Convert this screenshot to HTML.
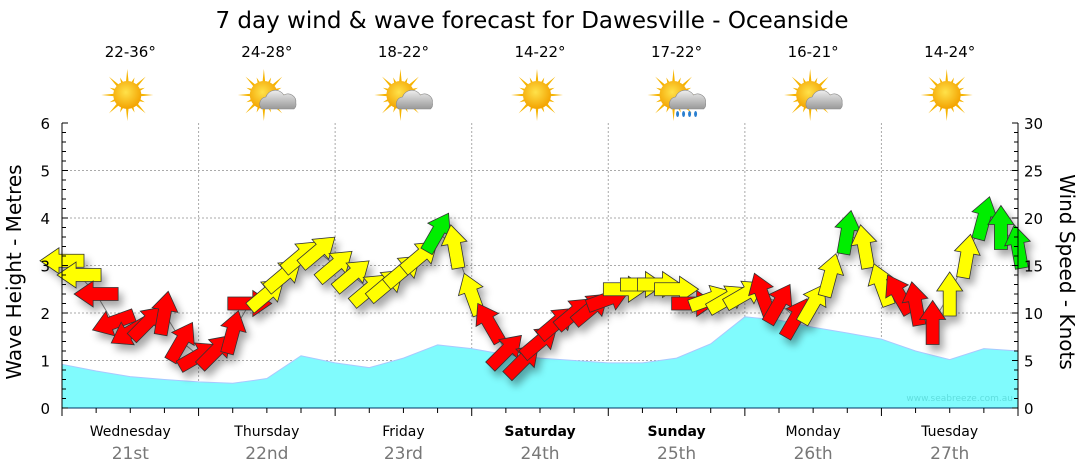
<!DOCTYPE html>
<html><head><meta charset="utf-8"><style>
body{margin:0;background:#fff;font-family:"DejaVu Sans","Liberation Sans",sans-serif;}
svg{display:block;font-family:"DejaVu Sans","Liberation Sans",sans-serif;}
</style></head><body>
<svg id="c" width="1080" height="475" xmlns="http://www.w3.org/2000/svg">
<defs>
<filter id="sh" x="-50%" y="-50%" width="200%" height="200%"><feGaussianBlur in="SourceAlpha" stdDeviation="4"/><feOffset dx="4" dy="6"/><feComponentTransfer><feFuncA type="linear" slope="0.35"/></feComponentTransfer><feMerge><feMergeNode/><feMergeNode in="SourceGraphic"/></feMerge></filter>
<radialGradient id="sunG" cx="0.45" cy="0.4" r="0.6"><stop offset="0" stop-color="#ffe24a"/><stop offset="1" stop-color="#f3a200"/></radialGradient>
<linearGradient id="cloudG" x1="0" y1="0" x2="0" y2="1"><stop offset="0" stop-color="#eee"/><stop offset="1" stop-color="#999"/></linearGradient>
</defs>
<text x="532" y="28" text-anchor="middle" font-size="23" fill="#000">7 day wind &amp; wave forecast for Dawesville - Oceanside</text>
<g id="grid"></g>
<g id="waves"></g>
<g id="windline"></g>
<g id="arrows" filter="url(#sh)"></g>
<g id="axes"></g>
<g id="topg"></g>
<text x="1013" y="401" text-anchor="end" font-size="9" fill="#5fdede">www.seabreeze.com.au</text>
<text transform="translate(21,272) rotate(-90)" text-anchor="middle" font-size="20" fill="#000">Wave Height - Metres</text>
<text transform="translate(1060,272) rotate(90)" text-anchor="middle" font-size="20" fill="#000">Wind Speed - Knots</text>
</svg>
<script>
const days=["Wednesday","Thursday","Friday","Saturday","Sunday","Monday","Tuesday"];
const dates=["21st","22nd","23rd","24th","25th","26th","27th"];
const temps=["22-36°","24-28°","18-22°","14-22°","17-22°","16-21°","14-24°"];
const weather=["sun","cloud","cloud","sun","rain","cloud","sun"];
const leftTicks=[0,1,2,3,4,5,6];
const rightTicks=[0,5,10,15,20,25,30];
// wave height (m) every 6 hours
const waveHeights=[0.92,0.78,0.66,0.60,0.55,0.52,0.62,1.10,0.95,0.85,1.05,1.33,1.25,1.12,1.05,1.0,0.95,0.95,1.05,1.35,1.92,1.85,1.7,1.58,1.45,1.2,1.02,1.25,1.2];
// wind speed (knots) every 3 hours
const windSpeeds=[15.5,14,12,9,8,9,10,7,5.5,6,8,11,12,14,16,16.5,15,14,12.5,13,14.5,16,18.5,17,12,9,6,5,7,9,10,10.5,11.5,12.5,13,13,12.5,11,11.5,11.5,12,12,11,9.5,11,14,18.5,17,13,12,11,9,12,16,20,19,17];
// arrow heading (deg, screen: 0=east, 90=up)
const windDirs=[180,180,180,200,210,45,80,60,30,45,75,0,40,40,40,40,40,40,40,40,40,40,60,100,110,120,45,45,40,40,40,40,20,0,0,0,0,0,20,30,30,110,60,60,60,75,80,100,110,120,100,90,90,80,75,90,100];
const windColors=["Y","Y","R","R","R","R","R","R","R","R","R","R","Y","Y","Y","Y","Y","Y","Y","Y","Y","Y","G","Y","Y","R","R","R","R","R","R","R","R","Y","Y","Y","Y","R","Y","Y","Y","R","R","R","Y","Y","G","Y","Y","R","R","R","Y","Y","G","G","G"];

const NS="http://www.w3.org/2000/svg";
const X0=62,X1=1018,Y0=408,Y1=123;
const nDays=7, dayW=(X1-X0)/nDays;
function xT(hours){return X0+hours/24*dayW;}
function yM(m){return Y0-(m/6)*(Y0-Y1);}
function yK(k){return Y0-(k/30)*(Y0-Y1);}
function mk(tag,attrs,parent){const e=document.createElementNS(NS,tag);for(const k in attrs)e.setAttribute(k,attrs[k]);parent.appendChild(e);return e;}
const grid=document.getElementById('grid'),axes=document.getElementById('axes'),topG=document.getElementById('topg');
leftTicks.forEach(v=>{if(v>0&&v<6){const l=mk('line',{x1:X0,x2:X1,y1:yM(v),y2:yM(v),stroke:'#aaa','stroke-dasharray':'2,2'},grid);

}});
for(let d=1;d<nDays;d++){const l=mk('line',{x1:xT(d*24),x2:xT(d*24),y1:Y1,y2:Y0,stroke:'#aaa','stroke-dasharray':'2,2'},grid);

}
let pts=waveHeights.map((v,i)=>xT(i*6)+','+yM(v));
const wp=mk('polygon',{points:X0+','+Y0+' '+pts.join(' ')+' '+X1+','+Y0,fill:'#80fbfd',stroke:'#a9c8ff','stroke-width':1},document.getElementById('waves'));


const wl=mk('polyline',{points:windSpeeds.map((v,i)=>xT(i*3)+','+yK(v)).join(' '),fill:'none',stroke:'#888','stroke-width':1},document.getElementById('windline'));


const col={Y:'#ffff00',R:'#ff0000',G:'#00ee00'};
const ag=document.getElementById('arrows');
windSpeeds.forEach((v,i)=>{
  const cx=xT(i*3),cy=yK(v);
  const p=mk('polygon',{points:'22,0 3,-13 3,-6.5 -22,-6.5 -22,6.5 3,6.5 3,13',fill:col[windColors[i]],stroke:'#333','stroke-width':0.8,transform:'translate('+cx+','+cy+') rotate('+(-windDirs[i])+')'},ag);
  
  
});
mk('line',{x1:X0,x2:X0,y1:Y1,y2:Y0,stroke:'#000'},axes);
mk('line',{x1:X1,x2:X1,y1:Y1,y2:Y0,stroke:'#000'},axes);
mk('line',{x1:X0,x2:X1,y1:Y0,y2:Y0,stroke:'#003366'},axes);
for(let m=0;m<=30;m++){const y=yM(m*0.2);mk('line',{x1:X0,x2:X0+(m%5==0?6:4),y1:y,y2:y,stroke:'#000'},axes);}
for(let k=0;k<=30;k++){const y=yK(k);mk('line',{x1:X1,x2:X1-(k%5==0?6:4),y1:y,y2:y,stroke:'#000'},axes);}
leftTicks.forEach(v=>{const t=mk('text',{x:50,y:yM(v)+6,'text-anchor':'end','font-size':15,fill:'#000'},axes);t.textContent=v;

});
rightTicks.forEach(v=>{const t=mk('text',{x:1024,y:yK(v)+6,'font-size':15,fill:'#000'},axes);t.textContent=v;

});
for(let h=0;h<=nDays*24;h+=6){mk('line',{x1:xT(h),x2:xT(h),y1:Y0,y2:Y0+(h%24==0?8:5),stroke:'#000'},axes);}
days.forEach((d,i)=>{
  const cx=xT(i*24+12);
  const t=mk('text',{x:cx,y:436,'text-anchor':'middle','font-size':14,fill:'#000','font-weight':(d=="Saturday"||d=="Sunday")?'bold':'normal'},axes);t.textContent=d;
  
  
  const t2=mk('text',{x:cx,y:459,'text-anchor':'middle','font-size':17,fill:'#777'},axes);t2.textContent=dates[i];
  
  
  const t3=mk('text',{x:cx,y:57,'text-anchor':'middle','font-size':15,fill:'#000'},topG);t3.textContent=temps[i];
  
  
  const g=mk('g',{transform:'translate('+(cx-3)+',95)'},topG);
  
  
  for(let r=0;r<16;r++){const a=r*Math.PI/8,L=(r%2?19:26);mk('polygon',{points:(Math.cos(a-0.12)*12)+','+(Math.sin(a-0.12)*12)+' '+(Math.cos(a)*L)+','+(Math.sin(a)*L)+' '+(Math.cos(a+0.12)*12)+','+(Math.sin(a+0.12)*12),fill:'#f6b400'},g);}
  mk('circle',{cx:0,cy:0,r:14,fill:'url(#sunG)'},g);
  if(weather[i]!="sun"){
    mk('path',{d:'M-2,14 a7,7 0 0 1 4,-12 a10,10 0 0 1 18,-2 a8,8 0 0 1 12,8 a6,6 0 0 1 -2,6 z',fill:'url(#cloudG)',stroke:'#888','stroke-width':0.6},g);
  }
  if(weather[i]=="rain"){[4,10,16,22].forEach(dx=>mk('ellipse',{cx:dx,cy:19,rx:1.5,ry:3,fill:'#2a7fd0'},g));}
});
</script>
</body></html>
